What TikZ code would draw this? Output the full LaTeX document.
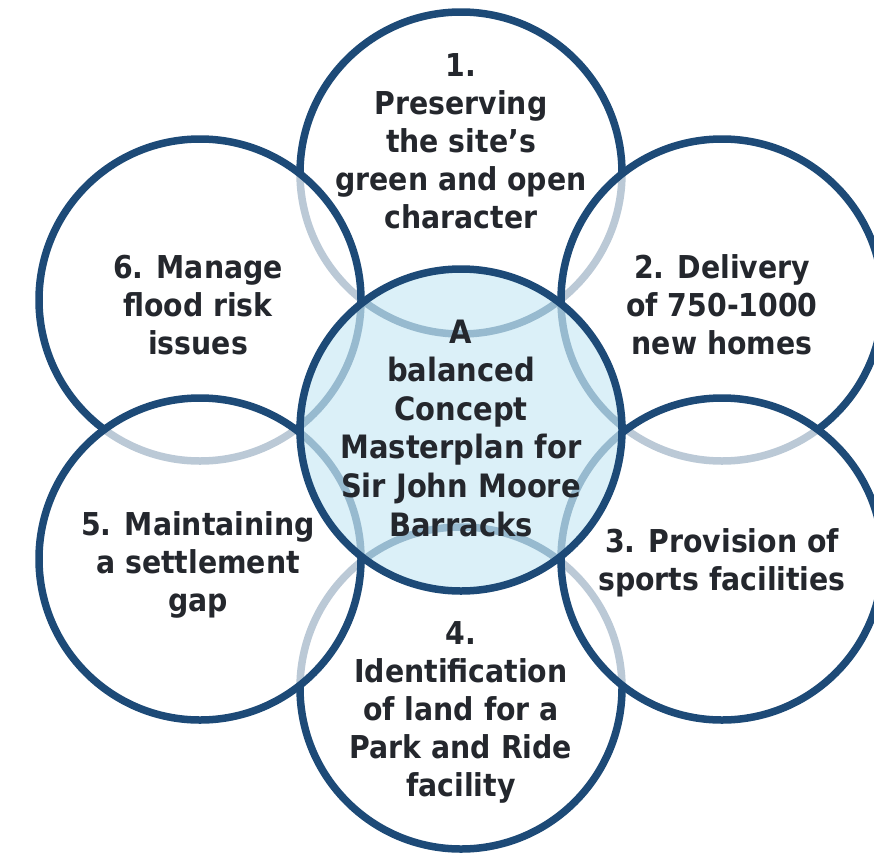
\documentclass[tikz,border=0pt]{standalone}
\usepackage{fontspec}
\setmainfont{DejaVu Sans}
\newfontfamily\outerfont{DejaVuSansCondensed-Bold.ttf}
\definecolor{ringblue}{RGB}{29,74,119}
\definecolor{hubblue}{RGB}{204,234,245}
\definecolor{txt}{RGB}{36,39,45}
\begin{document}
\begin{tikzpicture}[x=1pt,y=-1pt,
  ring/.style={circle, draw=ringblue, line width=7.5pt, fill=white, fill opacity=0.7, draw opacity=1, minimum size=322pt, inner sep=0pt},
  hub/.style={ring, fill=hubblue},
  otext/.style={align=center, text=txt, inner sep=0pt, font=\outerfont\fontsize{31.5}{38}\selectfont},
  ctext/.style={align=center, text=txt, inner sep=0pt, font=\outerfont\fontsize{32.2}{38.6}\selectfont}]
\useasboundingbox (0,0) rectangle (874,854);
% circles, in stacking order
\node[ring] (c1) at (461,173) {};
\node[ring] (c4) at (461,688) {};
\node[ring] (c2) at (722,300) {};
\node[ring] (c3) at (722,559) {};
\node[ring] (c6) at (200,300) {};
\node[ring] (c5) at (200,559) {};
\node[hub] (hub) at (461,430) {};
% texts
\node[otext] (t1) at (461,141) {1.\\Preserving\\the site’s\\green and open\\character};
\node[otext] (t2) at (722,305) {2. Delivery\\of 750-1000\\new homes};
\node[otext] (t3) at (722,563) {3. Provision of\\sports facilities};
\node[otext] (t4) at (461,712) {4.\\Identification\\of land for a\\Park and Ride\\facility};
\node[otext] (t5) at (198,565) {5. Maintaining\\a settlement\\gap};
\node[otext] (t6) at (198,305) {6. Manage\\flood risk\\issues};
\node[ctext] (tc) at (461,428) {A\\balanced\\Concept\\Masterplan for\\Sir John Moore\\Barracks};
\end{tikzpicture}
\end{document}
